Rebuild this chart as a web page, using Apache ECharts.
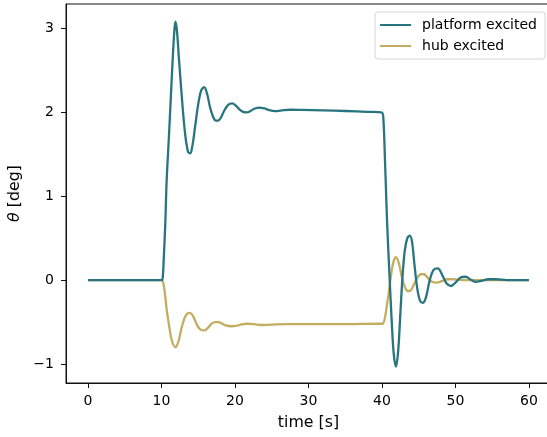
<!DOCTYPE html>
<html>
<head>
<meta charset="utf-8">
<script src="https://cdn.jsdelivr.net/npm/echarts@6/dist/echarts.min.js"></script>
<style>
html,body{margin:0;padding:0;background:#fff;}
#chart{width:547px;height:437px;}
</style>
</head>
<body>
<div id="chart"></div>
<script>
// ---- data ----
const platformT = [0, 5, 10.0, 10.15, 10.3, 10.5, 10.7, 11.0, 11.25, 11.5, 11.75, 11.9, 12.1, 12.4, 12.8, 13.2, 13.6, 13.9, 14.2, 14.6, 15.0, 15.4, 15.8, 16.2, 16.6, 17.0, 17.4, 17.7, 18.1, 18.6, 19.1, 19.6, 20.1, 20.6, 21.1, 21.6, 22.1, 22.7, 23.4, 24.0, 24.7, 25.4, 26.2, 27.5, 29, 32, 35, 38, 40.0, 40.2, 40.4, 40.7, 41.0, 41.3, 41.6, 41.9, 42.2, 42.5, 42.8, 43.1, 43.45, 43.8, 44.1, 44.4, 44.8, 45.2, 45.6, 46.0, 46.5, 47.0, 47.6, 48.2, 48.8, 49.4, 50.0, 50.7, 51.4, 52.0, 52.7, 53.5, 54.5, 55.5, 57, 60];
const platformV = [0, 0, 0, 0.02, 0.25, 0.65, 1.19, 1.7, 2.15, 2.6, 2.98, 3.08, 2.97, 2.6, 2.14, 1.75, 1.53, 1.51, 1.6, 1.85, 2.1, 2.26, 2.30, 2.22, 2.06, 1.95, 1.9, 1.90, 1.94, 2.03, 2.09, 2.105, 2.08, 2.035, 2.005, 1.998, 2.015, 2.045, 2.055, 2.045, 2.025, 2.014, 2.02, 2.03, 2.028, 2.022, 2.015, 2.005, 1.995, 1.9, 1.45, 0.68, 0.1, -0.45, -0.88, -1.03, -0.85, -0.4, 0.05, 0.35, 0.5, 0.53, 0.45, 0.2, -0.1, -0.25, -0.27, -0.2, 0.0, 0.12, 0.14, 0.06, -0.04, -0.07, -0.03, 0.03, 0.04, 0.01, -0.02, -0.01, 0.01, 0.01, 0, 0];

const hubT = [0, 5, 10.0, 10.1, 10.4, 10.7, 11.06, 11.4, 11.9, 12.3, 12.7, 13.1, 13.5, 13.9, 14.3, 14.8, 15.3, 15.8, 16.3, 16.8, 17.3, 17.7, 18.2, 18.7, 19.6, 20.6, 21.6, 22.6, 23.5, 25, 27, 30, 35, 39.9, 40.1, 40.4, 40.7, 41.0, 41.3, 41.6, 41.9, 42.3, 42.7, 43.1, 43.5, 43.8, 44.3, 44.9, 45.3, 45.7, 46.2, 46.8, 47.5, 48.2, 48.9, 49.6, 51, 60];
const hubV = [0, 0, 0, 0, -0.12, -0.35, -0.56, -0.72, -0.80, -0.73, -0.58, -0.46, -0.4, -0.39, -0.43, -0.53, -0.59, -0.60, -0.57, -0.52, -0.5, -0.50, -0.515, -0.54, -0.55, -0.535, -0.52, -0.525, -0.535, -0.53, -0.525, -0.525, -0.525, -0.52, -0.52, -0.45, -0.28, -0.1, 0.1, 0.23, 0.275, 0.2, 0.04, -0.08, -0.13, -0.13, -0.06, 0.04, 0.07, 0.07, 0.03, -0.02, -0.03, -0.01, 0.01, 0.01, 0, 0];

const xTicks = [0, 10, 20, 30, 40, 50, 60];
const yTicks = [-1, 0, 1, 2, 3];
const seriesNames = ['platform excited', 'hub excited'];
const colors = ['#29757f', '#c3ad60'];

const pair = (t, v) => t.map((x, i) => [x, v[i]]);
const font = 'DejaVu Sans';
const chart = echarts.init(document.getElementById('chart'), null, {renderer: 'canvas'});
chart.setOption({
  animation: false,
  backgroundColor: '#fff',
  grid: {left: 66, top: 4, width: 485, height: 379, outerBoundsMode: 'none', containLabel: false,
         show: true, borderColor: '#111', borderWidth: 1, backgroundColor: 'transparent'},
  legend: {
    orient: 'vertical', right: 2, top: 12,
    data: seriesNames,
    icon: 'rect',
    itemWidth: 31, itemHeight: 2, itemGap: 5,
    padding: [5, 8, 5, 5],
    backgroundColor: 'rgba(255,255,255,0.8)',
    borderColor: '#d6d6d6', borderWidth: 1, borderRadius: 3,
    textStyle: {fontFamily: font, fontSize: 14, color: '#000', padding: [0, 0, 0, 6], lineHeight: 16}
  },
  xAxis: {
    type: 'value', min: -3, max: 63,
    name: 'time [s]', nameLocation: 'middle', nameGap: 32,
    nameTextStyle: {fontFamily: font, fontSize: 15.8, color: '#000'},
    axisLine: {show: true, onZero: false, lineStyle: {color: '#111', width: 1}},
    axisTick: {show: true, inside: false, length: 5, lineStyle: {color: '#111', width: 1}, customValues: xTicks},
    axisLabel: {fontFamily: font, fontSize: 14, color: '#000', margin: 11, customValues: xTicks},
    splitLine: {show: false}
  },
  yAxis: {
    type: 'value', min: -1.226, max: 3.29,
    name: '{i|θ} [deg]', nameLocation: 'middle', nameGap: 42, nameRotate: 90,
    nameTextStyle: {fontFamily: font, fontSize: 15.8, color: '#000', rich: {i: {fontFamily: font, fontSize: 15.8, fontStyle: 'italic', color: '#000'}}},
    axisLine: {show: true, onZero: false, lineStyle: {color: '#111', width: 1}},
    axisTick: {show: true, inside: false, length: 5, lineStyle: {color: '#111', width: 1}, customValues: yTicks},
    axisLabel: {fontFamily: font, fontSize: 14, color: '#000', margin: 12, customValues: yTicks,
      formatter: v => String(v).replace('-', '\u2212')},
    splitLine: {show: false}
  },
  series: [
    {name: seriesNames[0], type: 'line', data: pair(platformT, platformV), smooth: 0.35, symbol: 'none', showSymbol: false,
     lineStyle: {color: colors[0], width: 2.3}, itemStyle: {color: colors[0]}, z: 3},
    {name: seriesNames[1], type: 'line', data: pair(hubT, hubV), smooth: 0.35, symbol: 'none', showSymbol: false,
     lineStyle: {color: colors[1], width: 2.3}, itemStyle: {color: colors[1]}, z: 2}
  ]
});
</script>
</body>
</html>
